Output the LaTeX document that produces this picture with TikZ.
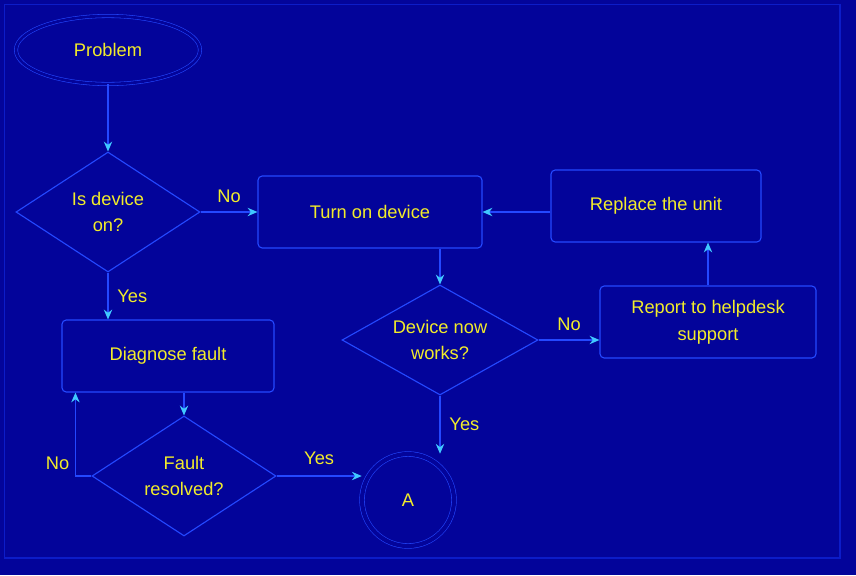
\documentclass[tikz,border=0pt]{standalone}
\usepackage{fontspec}
\setmainfont{Liberation Sans}
\usepackage{tikz}
\usetikzlibrary{positioning, arrows.meta, calc, shapes.geometric}
\definecolor{bgblue}{HTML}{03049A}
\definecolor{edge}{HTML}{2448FF}
\definecolor{frameblue}{HTML}{0C1CC8}
\definecolor{txt}{HTML}{F2EC2A}
\definecolor{tip}{HTML}{40C8FF}
\newcommand{\fcfont}{\fontsize{13}{19}\selectfont}
\tikzset{
  fc start/.style={
    ellipse,
    draw=edge,
    double=bgblue, double distance=2pt,
    minimum width=4.6cm, minimum height=1.7cm,
    font=\fcfont, text=txt
  },
  fc box/.style={
    draw=edge, thick, rounded corners=3pt,
    minimum height=1.8cm,
    align=center, font=\fcfont, text=txt
  },
  fc decision/.style={
    diamond, aspect=1.8,
    draw=edge, thick,
    minimum width=4.6cm, minimum height=3cm,
    align=center, font=\fcfont, text=txt, inner sep=0pt
  },
  fc end/.style={
    circle,
    draw=edge,
    double=bgblue, double distance=3pt,
    minimum size=2.3cm,
    font=\fcfont, text=txt
  },
  flow/.style={
    -{Stealth[length=7pt, width=6pt, color=tip]},
    thick,
    color=edge
  },
  lbl/.style={font=\fcfont, text=txt}
}
\begin{document}
\begin{tikzpicture}

  % ====== CANVAS ======
  \fill[bgblue] (0,0) rectangle (21.4,-14.375);
  \useasboundingbox (0,0) rectangle (21.4,-14.375);
  \draw[frameblue, thick] (0.12,-0.12) rectangle (21.0,-13.95);

  % ====== LEFT COLUMN ======
  \node[fc start] (start) at (2.7, -1.25) {Problem};
  \node[fc decision] (dec1) at (2.7, -5.3) {Is device\\on?};
  \node[fc box, minimum width=5.3cm] (diag) at (4.2, -8.9) {Diagnose fault};
  \node[fc decision] (dec3) at (4.6, -11.9) {Fault\\resolved?};

  % ====== MIDDLE ======
  \node[fc box, minimum width=5.6cm] (turnon) at (9.25, -5.3) {Turn on device};
  \node[fc decision, minimum width=4.9cm, minimum height=2.75cm] (dec2) at (11.0, -8.5) {Device now\\works?};
  \node[fc end] (endc) at (10.2, -12.5) {A};

  % ====== RIGHT COLUMN ======
  \node[fc box, minimum width=5.25cm] (replace) at (16.4, -5.15) {Replace the unit};
  \node[fc box, minimum width=5.4cm] (report) at (17.7, -8.05) {Report to helpdesk\\support};

  % ====== CONNECTORS ======
  \draw[flow] (start) -- (dec1);
  \draw[flow] (dec1.east) -- (turnon.west) node[lbl, midway, above=3pt]{No};
  \draw[flow] (dec1.south) -- (dec1.south |- diag.north) node[lbl, midway, right=3pt]{Yes};
  \draw[flow] (diag.south -| dec3.north) -- (dec3.north);

  % back loop from the lower decision
  \coordinate (back) at ($(diag.south west)+(0.35,0)$);
  \draw[flow] (dec3.west) -| (back) node[lbl, pos=0.5, above left=1pt]{No};
  \draw[flow] (dec3.east) -- (dec3.east -| endc.west) node[lbl, midway, above=4pt]{Yes};

  \draw[flow] (turnon.south -| dec2.north) -- (dec2.north);
  \draw[flow] (dec2.south) -- (dec2.south |- endc.north) node[lbl, midway, right=3pt]{Yes};
  \draw[flow] (dec2.east) -- (dec2.east -| report.west) node[lbl, midway, above=3pt]{No};
  \draw[flow] (report.north) -- (report.north |- replace.south);
  \draw[flow] (replace.west |- turnon.east) -- (turnon.east);

\end{tikzpicture}
\end{document}
